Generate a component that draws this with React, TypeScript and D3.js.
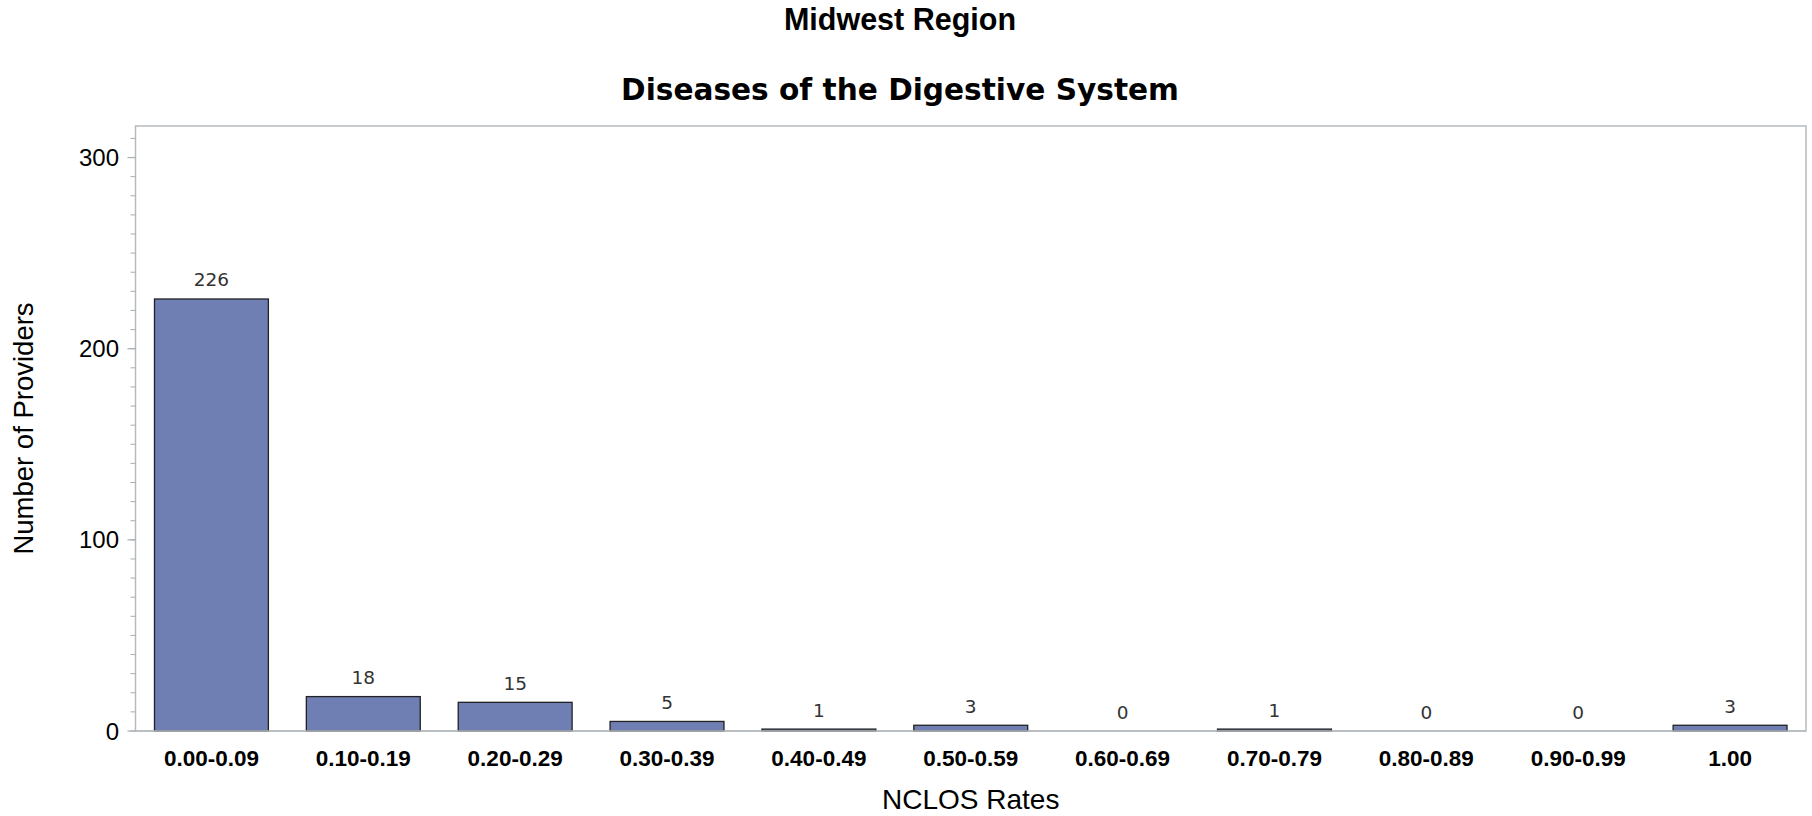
import React from "react";
import * as d3 from "d3";

const categories = ["0.00-0.09","0.10-0.19","0.20-0.29","0.30-0.39","0.40-0.49","0.50-0.59","0.60-0.69","0.70-0.79","0.80-0.89","0.90-0.99","1.00"];
const counts = [226, 18, 15, 5, 1, 3, 0, 1, 0, 0, 3];
const majorTicks = [0, 100, 200, 300];
const minorTicks = d3.range(0, 311, 10);

const W = 1812, H = 816;
const left = 135.5, right = 1806, top = 126, bottom = 731;

export default function App() {
  const x = d3.scaleBand<string>().domain(categories).range([left, right]).paddingInner(0.25).paddingOuter(0.125);
  const y = d3.scaleLinear().domain([0, 316.5]).range([bottom, top]);
  const sans = "'Liberation Sans', Arial, sans-serif";
  const dv = "'DejaVu Sans', sans-serif";
  return (
    <svg width={W} height={H} style={{ position: "absolute", left: 0, top: 0, background: "#fff" }}>
      <rect x={0} y={0} width={W} height={H} fill="#fff" />
      <text x={900} y={30} textAnchor="middle" fontFamily={sans} fontWeight="bold" fontSize={30.5} fill="#000">Midwest Region</text>
      <text x={900} y={100} textAnchor="middle" fontFamily={dv} fontWeight="bold" fontSize={29.6} fill="#000">Diseases of the Digestive System</text>
      {/* frame */}
      <rect x={left} y={top} width={right - left} height={bottom - top} fill="none" stroke="#B5BBBF" strokeWidth={1.5} />
      {/* minor ticks */}
      {minorTicks.map((t) => (
        <line key={"m" + t} x1={left - 5} x2={left} y1={y(t)} y2={y(t)} stroke="#A8AEB2" strokeWidth={1} />
      ))}
      {majorTicks.map((t) => (
        <g key={"M" + t}>
          <line x1={left - 8} x2={left} y1={y(t)} y2={y(t)} stroke="#A8AEB2" strokeWidth={1.2} />
          <text x={119} y={y(t)} dy="0.36em" textAnchor="end" fontFamily={sans} fontSize={24} fill="#000">{t}</text>
        </g>
      ))}
      {/* bars */}
      {categories.map((c, i) => {
        const v = counts[i];
        const x0 = x(c)!;
        const bw = x.bandwidth();
        return (
          <g key={c}>
            {v > 0 && (
              <rect x={x0} y={y(v)} width={bw} height={y(0) - y(v)} fill="#6F7EB3" stroke="#222" strokeWidth={1.3} />
            )}
            <text x={x0 + bw / 2} y={y(v) - 12.5} textAnchor="middle" fontFamily={dv} fontSize={18.5} fill="#333">{v}</text>
            <text x={x0 + bw / 2} y={766} textAnchor="middle" fontFamily={sans} fontWeight="bold" fontSize={22.5} fill="#000">{c}</text>
          </g>
        );
      })}
      <line x1={left} x2={right} y1={bottom} y2={bottom} stroke="#B5BBBF" strokeWidth={1.5} />
      <text x={(left + right) / 2} y={809} textAnchor="middle" fontFamily={sans} fontSize={28} fill="#000">NCLOS Rates</text>
      <text transform={`translate(33, ${(top + bottom) / 2}) rotate(-90)`} textAnchor="middle" fontFamily={sans} fontSize={27.5} fill="#000">Number of Providers</text>
    </svg>
  );
}
